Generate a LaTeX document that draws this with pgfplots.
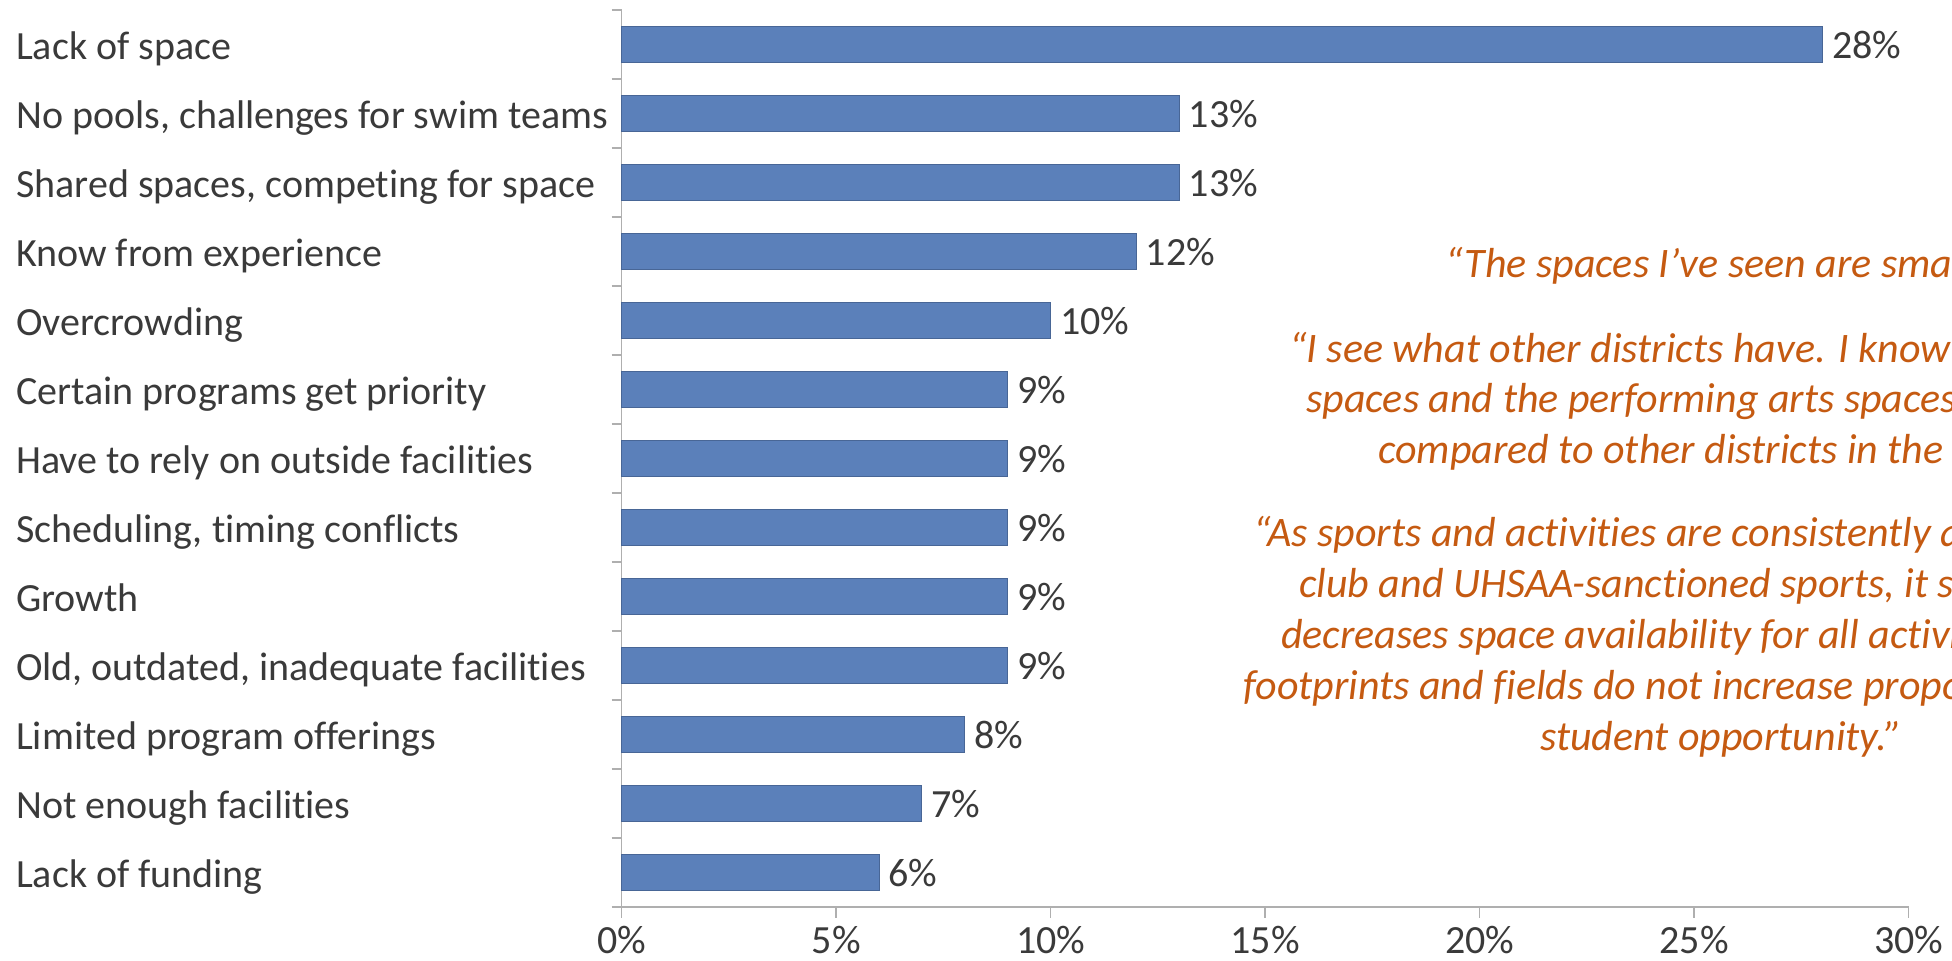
\documentclass[border=0pt]{standalone}
\usepackage{pgfplots}
\pgfplotsset{compat=1.18}
\usepackage{fontspec}
\setmainfont{Carlito}[Ligatures=NoCommon]

\definecolor{barblue}{RGB}{91,128,186}
\definecolor{baredge}{RGB}{72,102,150}
\definecolor{labgray}{RGB}{58,58,58}
\definecolor{quotec}{RGB}{197,90,17}
\definecolor{axgray}{RGB}{175,175,175}

\newcommand{\labfont}{\fontsize{40}{46}\selectfont}
\newcommand{\qfont}{\fontsize{42}{51}\selectfont\itshape}

\begin{document}
\begin{tikzpicture}[x=1pt,y=1pt]
\begin{axis}[
    at={(621.7pt,54pt)}, anchor=south west,
    scale only axis, width=1287pt, height=897pt,
    xbar, bar width=0.51,
    xmin=0, xmax=30, ymin=-0.5, ymax=12.5,
    axis x line*=bottom, axis y line*=left,
    axis line style={-, draw=axgray, line width=1.6pt},
    tick align=outside,
    major tick length=11pt, minor tick length=10pt,
    tick style={draw=axgray, line width=1.6pt},
    every major y tick/.append style={draw=none},
    xtick={0,5,...,30},
    ytick={0,...,12},
    minor ytick={-0.5,0.5,...,12.5},
    xticklabel={\pgfmathprintnumber{\tick}\%},
    /pgf/number format/assume math mode=true,
    xticklabel style={font=\labfont, text=labgray, anchor=base, inner sep=0pt, yshift=-35pt},
    yticklabels={{Lack of funding},{Not enough facilities},{Limited program offerings},
      {Old, outdated, inadequate facilities},{Growth},{Scheduling, timing conflicts},
      {Have to rely on outside facilities},{Certain programs get priority},{Overcrowding},
      {Know from experience},{Shared spaces, competing for space},
      {No pools, challenges for swim teams},{Lack of space}},
    yticklabel style={font=\labfont, text=labgray, anchor=base west, inner sep=0pt,
      xshift=-594.7pt, yshift=-15pt},
    point meta=x,
    nodes near coords={\pgfmathprintnumber{\pgfplotspointmeta}\%},
    every node near coord/.append style={font=\labfont, text=labgray, inner sep=0pt,
      anchor=base west, xshift=9pt, yshift=-14pt},
    clip=false,
]
\addplot[fill=barblue, draw=baredge, line width=1pt] coordinates {
    (6,0) (7,1) (8,2) (9,3) (9,4) (9,5) (9,6) (9,7) (10,8) (12,9) (13,10) (13,11) (28,12)
};
\end{axis}

% quotes, cut at the right edge as in the original
\begin{scope}[every node/.style={anchor=base west, inner sep=0pt, text=quotec, font=\qfont}]
\node at (1445,683) {“The spaces I’ve seen are small.”};
\node at (1289,598) {“I see what other districts have. I know the athletic};
\node at (1306,548) {spaces and the performing arts spaces are lacking};
\node at (1378,497) {compared to other districts in the state.”};
\node at (1253,414) {“As sports and activities are consistently added, both};
\node at (1299,363) {club and UHSAA-sanctioned sports, it significantly};
\node at (1281,312) {decreases space availability for all activities. Our};
\node at (1243,261) {footprints and fields do not increase proportionally with};
\node at (1540,210) {student opportunity.”};
\end{scope}

\pgfresetboundingbox
\useasboundingbox (0,0) rectangle (1952,961);
\end{tikzpicture}
\end{document}
